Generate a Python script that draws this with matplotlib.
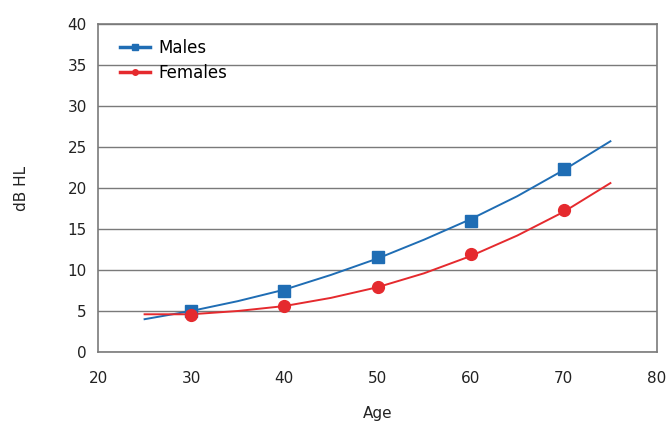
import matplotlib
matplotlib.use("Agg")
import matplotlib.pyplot as plt
from matplotlib.lines import Line2D

# Marker data (Age, dB HL)
ages = [30, 40, 50, 60, 70]
males = [5.0, 7.5, 11.6, 16.0, 22.3]
females = [4.5, 5.6, 7.9, 11.9, 17.3]

# Trend line readings
trend_ages = [25, 30, 35, 40, 45, 50, 55, 60, 65, 70, 75]
males_trend = [4.0, 5.0, 6.2, 7.6, 9.4, 11.4, 13.7, 16.2, 19.0, 22.2, 25.7]
females_trend = [4.6, 4.6, 5.0, 5.6, 6.6, 7.9, 9.6, 11.7, 14.2, 17.1, 20.6]

xticks = [20, 30, 40, 50, 60, 70, 80]
yticks = [0, 5, 10, 15, 20, 25, 30, 35, 40]

blue = "#1f6db4"
red = "#e52a2e"
grid = "#7a7a7a"

plt.rcParams['font.family'] = ['DejaVu Sans']
fig = plt.figure(figsize=(6.71, 4.33), dpi=100)
ax = fig.add_axes([98/671, 1-352/433, (657-98)/671, (352-24)/433])

ax.plot(trend_ages, males_trend, color=blue, lw=1.4, zorder=3)
ax.plot(trend_ages, females_trend, color=red, lw=1.4, zorder=3)
ax.plot(ages, males, linestyle='none', marker='s', ms=8.5, color=blue, zorder=4)
ax.plot(ages, females, linestyle='none', marker='o', ms=8.5, color=red, zorder=4)

ax.set_xlim(20, 80)
ax.set_ylim(0, 40)
ax.set_xticks(xticks)
ax.set_yticks(yticks)
ax.yaxis.grid(True, color=grid, lw=1)
ax.set_axisbelow(True)
for s in ax.spines.values():
    s.set_color(grid)
    s.set_linewidth(1.2)
ax.tick_params(length=0, labelsize=11, colors="#222222", pad=8)
ax.tick_params(axis='x', pad=14)

ax.set_xlabel("Age", fontsize=11, color="#222222", labelpad=14)
ax.set_ylabel("dB HL", fontsize=11, color="#222222", labelpad=28)

handles = [Line2D([], [], color=blue, lw=2.5, marker='s', ms=4),
           Line2D([], [], color=red, lw=2.5, marker='o', ms=4)]
ax.legend(handles, ["Males", "Females"], loc='upper left', frameon=False,
          fontsize=12, bbox_to_anchor=(0.039, 0.955), handlelength=1.8,
          handletextpad=0.5, labelspacing=0.45, borderpad=0, borderaxespad=0)

fig.savefig("out.png", dpi=100)
